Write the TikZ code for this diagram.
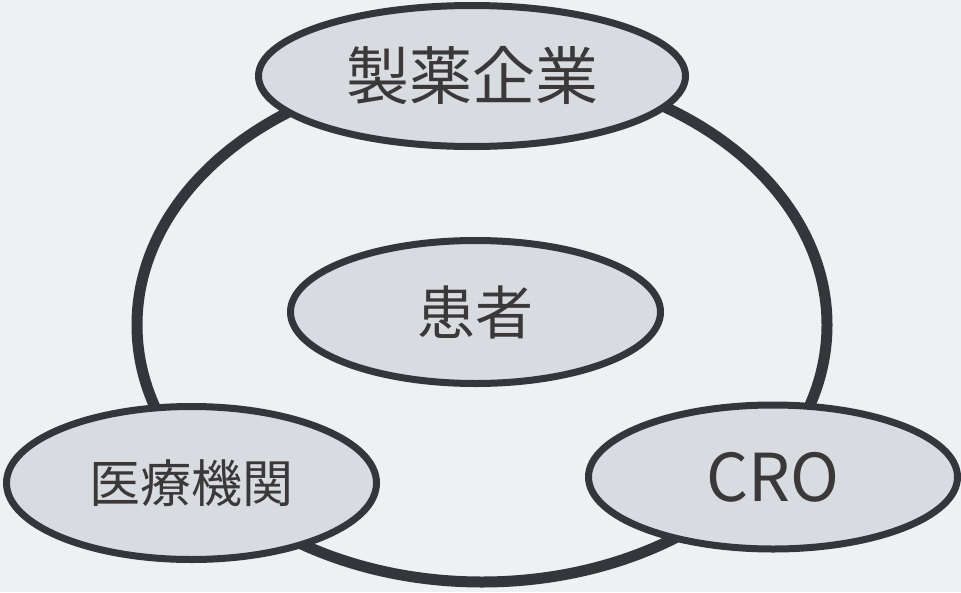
\documentclass[tikz,border=0pt]{standalone}
\usepackage{fontspec}
\setmainfont{Noto Sans CJK JP}
\usetikzlibrary{shapes.geometric}
\definecolor{bgc}{HTML}{EEF0F2}
\definecolor{fillc}{HTML}{D8DBDF}
\definecolor{linec}{HTML}{33363B}
\definecolor{textc}{HTML}{3A3838}
\tikzset{
  party/.style={ellipse, draw=linec, fill=fillc, line width=7pt, inner sep=0pt, text=textc},
  ringstyle/.style={ellipse, draw=linec, line width=11pt, inner sep=0pt}
}
\begin{document}
\begin{tikzpicture}[x=1pt,y=-1pt]
\fill[bgc] (0,0) rectangle (961,592);
\useasboundingbox (0,0) rectangle (961,592);
\node[ringstyle, minimum width=690pt, minimum height=514pt] (ring) at (482,325) {};
\node[party, minimum width=427pt, minimum height=141pt, font=\fontsize{63}{70}\selectfont] (pharma) at (472,76) {製薬企業};
\node[party, minimum width=370pt, minimum height=143pt, font=\fontsize{58}{66}\selectfont] (patient) at (475.5,312) {患者};
\node[party, minimum width=370pt, minimum height=153pt, font=\fontsize{51}{60}\selectfont] (hospital) at (191.5,483) {医療機関};
\node[party, minimum width=369pt, minimum height=144pt, font=\fontsize{66}{74}\selectfont] (cro) at (773,477) {CRO};
\end{tikzpicture}
\end{document}
